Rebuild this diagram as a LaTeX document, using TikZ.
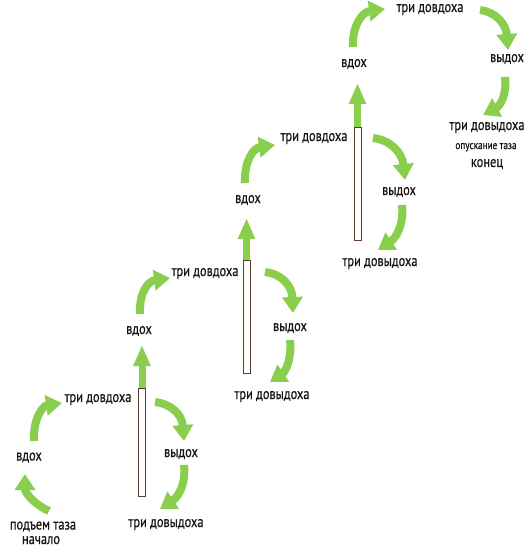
\documentclass[tikz,border=0pt]{standalone}
\usepackage{fontspec}
\setmainfont{PT Sans}[FakeStretch=0.8,FakeBold=0.5]
\usetikzlibrary{arrows.meta}
\definecolor{arrowgreen}{RGB}{138,206,78}
\definecolor{barline}{RGB}{95,55,45}
\definecolor{txt}{RGB}{25,20,20}
\begin{document}
\begin{tikzpicture}[x=1pt,y=-1pt,
  lbl/.style={font=\fontsize{15.5}{17}\selectfont, text=txt, inner sep=0pt, anchor=base},
  smalllbl/.style={font=\fontsize{11.5}{13}\selectfont, text=txt, inner sep=0pt, anchor=base},
  garrow/.style={draw=arrowgreen, line width=8pt, -{Triangle[width=20pt,length=16pt]}},
  uparrow/.style={draw=arrowgreen, line width=7pt, -{Triangle[width=16pt,length=21pt]}},
  barbox/.style={draw=barline, fill=white, line width=0.8pt, minimum width=7pt, inner sep=0pt}]
\useasboundingbox (0,0) rectangle (528,548);

% ---- labels
\node[lbl] (p1) at (43,529.5) {подъем таза};
\node[lbl] (n1) at (41,544) {начало};
\node[lbl] (v1) at (29,460.5) {вдох};
\node[lbl] (i1) at (98,402) {три довдоха};
\node[lbl] (e1) at (181,457) {выдох};
\node[lbl] (o1) at (166,527) {три довыдоха};

\node[lbl] (v2) at (139,334) {вдох};
\node[lbl] (i2) at (205,276) {три довдоха};
\node[lbl] (e2) at (290,331) {выдох};
\node[lbl] (o2) at (272,399) {три довыдоха};

\node[lbl] (v3) at (248,203) {вдох};
\node[lbl] (i3) at (314,141) {три довдоха};
\node[lbl] (e3) at (399,195) {выдох};
\node[lbl] (o3) at (380,266) {три довыдоха};

\node[lbl] (v4) at (354,67) {вдох};
\node[lbl] (i4) at (430,12) {три довдоха};
\node[lbl] (e4) at (507,62) {выдох};
\node[lbl] (o4) at (487,130) {три довыдоха};
\node[smalllbl] (q4) at (486,149) {опускание таза};
\node[lbl] (k4) at (487,167) {конец};

% ---- bars
\node[barbox, minimum height=108pt] (r1) at (142,442) {};
\node[barbox, minimum height=113pt] (r2) at (246.5,316.5) {};
\node[barbox, minimum height=113pt] (r3) at (357.5,183.5) {};
\coordinate (t1) at (142,345);
\coordinate (t2) at (246.5,218);
\coordinate (t3) at (357.5,83);
\draw[uparrow] (r1.north) -- (t1);
\draw[uparrow] (r2.north) -- (t2);
\draw[uparrow] (r3.north) -- (t3);

% ---- curved arrows
\coordinate (a1s) at (49,511);  \coordinate (a1e) at (25,474);
\coordinate (a2s) at (34,441);  \coordinate (a2e) at (62,403);
\coordinate (a3s) at (155,402); \coordinate (a3e) at (184,441);
\coordinate (a4s) at (184,465); \coordinate (a4e) at (160,509);
\draw[garrow] (a1s) .. controls (32,503) and (25,492) .. (a1e);
\draw[garrow] (a2s) .. controls (33,420) and (42,406) .. (a2e);
\draw[garrow] (a3s) .. controls (172,404) and (182,415) .. (a3e);
\draw[garrow] (a4s) .. controls (186,485) and (178,497) .. (a4e);

\coordinate (b2s) at (140,314); \coordinate (b2e) at (170,278);
\coordinate (b3s) at (265,272); \coordinate (b3e) at (293,313);
\coordinate (b4s) at (290,340); \coordinate (b4e) at (270,382);
\draw[garrow] (b2s) .. controls (139,293) and (148,281) .. (b2e);
\draw[garrow] (b3s) .. controls (282,274) and (292,286) .. (b3e);
\draw[garrow] (b4s) .. controls (292,360) and (285,372) .. (b4e);

\coordinate (c2s) at (245,183); \coordinate (c2e) at (275,145);
\coordinate (c3s) at (373,138); \coordinate (c3e) at (405,180);
\coordinate (c4s) at (402,205); \coordinate (c4e) at (378,250);
\draw[garrow] (c2s) .. controls (244,162) and (253,148) .. (c2e);
\draw[garrow] (c3s) .. controls (390,140) and (402,152) .. (c3e);
\draw[garrow] (c4s) .. controls (404,225) and (396,238) .. (c4e);

\coordinate (d2s) at (353,47);  \coordinate (d2e) at (385,9);
\coordinate (d3s) at (480,10);  \coordinate (d3e) at (508,50);
\coordinate (d4s) at (505,77);  \coordinate (d4e) at (483,115);
\draw[garrow] (d2s) .. controls (352,26) and (362,12) .. (d2e);
\draw[garrow] (d3s) .. controls (496,12) and (506,24) .. (d3e);
\draw[garrow] (d4s) .. controls (507,95) and (500,106) .. (d4e);
\end{tikzpicture}
\end{document}
